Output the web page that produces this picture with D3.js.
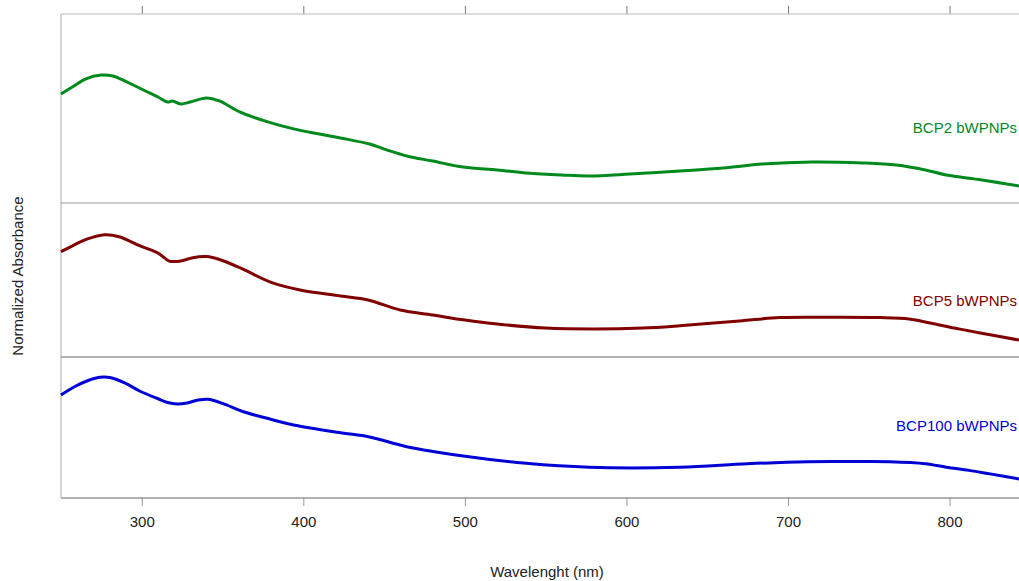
<!DOCTYPE html>
<html>
<head>
<meta charset="utf-8">
<script src="https://cdn.jsdelivr.net/npm/d3@7/dist/d3.min.js"></script>
<style>
	body { margin: 0; background: #fff; }
	svg { display: block; font-family: "Liberation Sans", Arial, sans-serif; }
	.tick text { font-size: 15px; fill: #222; }
</style>
</head>
<body>
<svg id="chart" width="1019" height="581"></svg>
<script>
// wavelengths (nm) and normalized absorbance (fraction of panel height)
var bcp2Wl = [250, 258, 265, 275, 282, 291, 301, 310, 316, 319, 324, 330, 340, 348, 361, 378, 394, 410, 423, 441, 452, 464, 480, 499, 520, 538, 560, 577, 602, 633, 660, 684, 715, 746, 767, 785, 798, 820, 843];
var bcp2Abs = [0.577, 0.619, 0.656, 0.677, 0.672, 0.640, 0.598, 0.561, 0.534, 0.540, 0.524, 0.534, 0.556, 0.540, 0.481, 0.429, 0.392, 0.365, 0.344, 0.312, 0.280, 0.249, 0.222, 0.190, 0.175, 0.159, 0.148, 0.143, 0.153, 0.169, 0.185, 0.206, 0.217, 0.212, 0.201, 0.175, 0.148, 0.122, 0.090];

var bcp5Wl = [250, 258, 266, 277, 286, 299, 310, 317, 324, 331, 340, 349, 361, 381, 398, 423, 440, 460, 480, 500, 520, 550, 580, 610, 633, 670, 695, 726, 757, 775, 788, 803, 819, 843];
var bcp5Abs = [0.684, 0.727, 0.765, 0.794, 0.781, 0.721, 0.675, 0.623, 0.623, 0.643, 0.652, 0.630, 0.578, 0.481, 0.435, 0.396, 0.370, 0.305, 0.273, 0.240, 0.214, 0.188, 0.182, 0.188, 0.203, 0.234, 0.256, 0.258, 0.256, 0.247, 0.221, 0.188, 0.156, 0.110];

var bcp100Wl = [250, 258, 266, 274, 281, 290, 299, 310, 316, 322, 328, 335, 341, 350, 363, 377, 394, 423, 441, 464, 499, 538, 577, 633, 675, 712, 740, 763, 785, 798, 812, 825, 843];
var bcp100Abs = [0.730, 0.787, 0.830, 0.856, 0.853, 0.813, 0.757, 0.704, 0.677, 0.667, 0.674, 0.695, 0.700, 0.671, 0.612, 0.567, 0.518, 0.463, 0.433, 0.364, 0.298, 0.246, 0.218, 0.218, 0.243, 0.257, 0.258, 0.257, 0.243, 0.218, 0.196, 0.171, 0.135];

var seriesNames = ["BCP2 bWPNPs", "BCP5 bWPNPs", "BCP100 bWPNPs"];
var seriesColors = ["#008a1e", "#800000", "#0000d6"];
var xTicks = [300, 400, 500, 600, 700, 800];

var series = [
	{ name: seriesNames[0], color: seriesColors[0], wl: bcp2Wl, abs: bcp2Abs },
	{ name: seriesNames[1], color: seriesColors[1], wl: bcp5Wl, abs: bcp5Abs },
	{ name: seriesNames[2], color: seriesColors[2], wl: bcp100Wl, abs: bcp100Abs }
];

var svg = d3.select("#chart");
var left = 61, right = 1019;
// panel boundaries (top, bottom) in pixels
var panels = [[14, 203], [203, 357], [357, 498]];

var x = d3.scaleLinear().domain([250, 843]).range([left, right]);

// top ticks without labels
svg.append("g")
	.attr("transform", "translate(0," + panels[0][0] + ")")
	.call(d3.axisTop(x).tickValues(xTicks).tickSize(8).tickFormat(""))
	.call(function(g) { g.select(".domain").remove(); })
	.selectAll("line").attr("stroke", "#777");

// bottom axis
svg.append("g")
	.attr("transform", "translate(0," + panels[2][1] + ")")
	.call(d3.axisBottom(x).tickValues(xTicks).tickSize(8).tickPadding(10).tickFormat(d3.format("d")))
	.call(function(g) { g.select(".domain").remove(); })
	.call(function(g) { g.selectAll("line").attr("stroke", "#999"); })
	.selectAll("text").attr("font-size", 15).attr("font-family", null);

// frame lines
svg.append("line").attr("x1", left).attr("x2", right).attr("y1", panels[0][0]).attr("y2", panels[0][0])
	.attr("stroke", "#bbb");
svg.append("line").attr("x1", left).attr("x2", right).attr("y1", panels[1][0]).attr("y2", panels[1][0])
	.attr("stroke", "#999");
svg.append("line").attr("x1", left).attr("x2", right).attr("y1", panels[2][0]).attr("y2", panels[2][0])
	.attr("stroke", "#666");
svg.append("line").attr("x1", left).attr("x2", right).attr("y1", panels[2][1]).attr("y2", panels[2][1])
	.attr("stroke", "#666");
svg.append("line").attr("x1", left).attr("x2", left).attr("y1", panels[0][0]).attr("y2", panels[2][1])
	.attr("stroke", "#aaa");

// curves, one per panel
series.forEach(function(s, i) {
	var y = d3.scaleLinear().domain([0, 1]).range([panels[i][1], panels[i][0]]);
	var points = s.wl.map(function(w, j) { return [w, s.abs[j]]; });
	var line = d3.line()
		.x(function(d) { return x(d[0]); })
		.y(function(d) { return y(d[1]); })
		.curve(d3.curveCatmullRom.alpha(0.5));
	svg.append("path")
		.datum(points)
		.attr("d", line)
		.attr("fill", "none")
		.attr("stroke", s.color)
		.attr("stroke-width", 3)
		.attr("stroke-linejoin", "round");
});

// series labels
var labelY = [128, 301, 426];
series.forEach(function(s, i) {
	svg.append("text")
		.attr("x", 1017)
		.attr("y", labelY[i])
		.attr("dy", "0.35em")
		.attr("text-anchor", "end")
		.attr("font-size", 15)
		.attr("fill", s.color)
		.text(s.name);
});

// axis titles
svg.append("text")
	.attr("x", 547)
	.attr("y", 572)
	.attr("dy", "0.35em")
	.attr("text-anchor", "middle")
	.attr("font-size", 15)
	.attr("fill", "#222")
	.text("Wavelenght (nm)");

svg.append("text")
	.attr("transform", "translate(18,276) rotate(-90)")
	.attr("dy", "0.35em")
	.attr("text-anchor", "middle")
	.attr("font-size", 15)
	.attr("fill", "#222")
	.text("Normalized Absorbance");
</script>
</body>
</html>
